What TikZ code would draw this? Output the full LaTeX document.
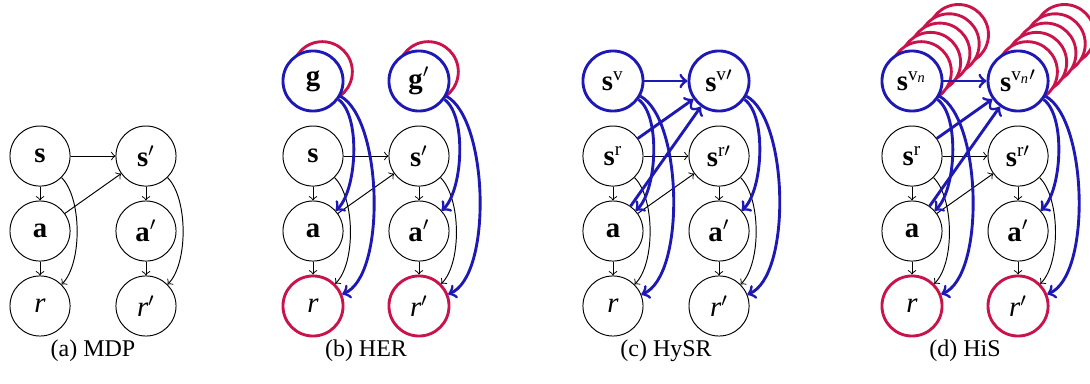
\documentclass[tikz,border=0pt]{standalone}
\usepackage{amsmath}
\usepackage{fontspec}
\setmainfont{Liberation Serif}
\definecolor{hisblue}{RGB}{30,25,180}
\definecolor{hisred}{RGB}{200,20,75}

\begin{document}
\begin{tikzpicture}[
    var/.style={circle, draw, fill=white, minimum size=0.88cm, inner sep=0pt, font=\fontsize{12}{14}\selectfont},
    bluevar/.style={var, draw=hisblue, very thick},
    redvar/.style={var, draw=hisred, very thick},
    copyc/.style={draw=hisred, very thick, fill=white},
    arr/.style={->},
    barr/.style={->, very thick, draw=hisblue},
    subcap/.style={font=\fontsize{10}{12}\selectfont}
]
    \useasboundingbox (0,0) rectangle (15.963,-5.609);

    % (a) MDP
    \node[var] (sA)  at (0.586,-2.285) {$\textbf{s}$};
    \node[var] (spA) at (2.138,-2.285) {$\textbf{s}'$};
    \node[var] (aA)  at (0.586,-3.383) {$\textbf{a}$};
    \node[var] (apA) at (2.138,-3.383) {$\textbf{a}'$};
    \node[var] (rA)  at (0.586,-4.481) {$\textit{r}$};
    \node[var] (rpA) at (2.138,-4.481) {$\textit{r}'$};
    \draw[arr] (sA) -- (spA);
    \draw[arr] (sA) -- (aA);
    \draw[arr] (aA) -- (rA);
    \draw[arr] (aA) -- (spA);
    \draw[arr] (sA) to[out=-45, in=45, looseness=0.7] (rA);
    \draw[arr] (spA) -- (apA);
    \draw[arr] (apA) -- (rpA);
    \draw[arr] (spA) to[out=-45, in=45, looseness=0.7] (rpA);
    \node[subcap] (capA) at (1.362,-5.140) {(a) MDP};

    % (b) HER
    \draw[copyc] (4.720,-1.050) circle (0.44);
    \draw[copyc] (6.272,-1.050) circle (0.44);
    \node[bluevar] (gB)  at (4.584,-1.186) {$\textbf{g}$};
    \node[bluevar] (gpB) at (6.136,-1.186) {$\textbf{g}'$};
    \node[var] (sB)  at (4.584,-2.285) {$\textbf{s}$};
    \node[var] (spB) at (6.136,-2.285) {$\textbf{s}'$};
    \node[var] (aB)  at (4.584,-3.383) {$\textbf{a}$};
    \node[var] (apB) at (6.136,-3.383) {$\textbf{a}'$};
    \node[redvar] (rB)  at (4.584,-4.481) {$\textit{r}$};
    \node[redvar] (rpB) at (6.136,-4.481) {$\textit{r}'$};
    \draw[arr] (sB) -- (spB);
    \draw[arr] (sB) -- (aB);
    \draw[arr] (aB) -- (rB);
    \draw[arr] (aB) -- (spB);
    \draw[arr] (sB) to[out=-45, in=45, looseness=0.7] (rB);
    \draw[arr] (spB) -- (apB);
    \draw[arr] (apB) -- (rpB);
    \draw[arr] (spB) to[out=-45, in=45, looseness=0.7] (rpB);
    \draw[barr] (gB) to[out=-36, in=42, looseness=0.65] (aB);
    \draw[barr] (gB) to[out=-29, in=22, looseness=0.62] (rB);
    \draw[barr] (gpB) to[out=-36, in=42, looseness=0.65] (apB);
    \draw[barr] (gpB) to[out=-29, in=22, looseness=0.62] (rpB);
    \node[subcap] (capB) at (5.360,-5.140) {(b) HER};

    % (c) HySR
    \node[bluevar] (svC)  at (8.977,-1.186) {$\textbf{s}^{\text{v}}$};
    \node[bluevar] (svpC) at (10.530,-1.186) {$\textbf{s}^{\text{v}\prime}$};
    \node[var] (srC)  at (8.977,-2.285) {$\textbf{s}^{\text{r}}$};
    \node[var] (srpC) at (10.530,-2.285) {$\textbf{s}^{\text{r}\prime}$};
    \node[var] (aC)   at (8.977,-3.383) {$\textbf{a}$};
    \node[var] (apC)  at (10.530,-3.383) {$\textbf{a}'$};
    \node[var] (rC)   at (8.977,-4.481) {$\textit{r}$};
    \node[var] (rpC)  at (10.530,-4.481) {$\textit{r}'$};
    \draw[arr] (srC) -- (srpC);
    \draw[arr] (srC) -- (aC);
    \draw[arr] (aC) -- (rC);
    \draw[arr] (aC) -- (srpC);
    \draw[arr] (srC) to[out=-45, in=45, looseness=0.7] (rC);
    \draw[arr] (srpC) -- (apC);
    \draw[arr] (apC) -- (rpC);
    \draw[arr] (srpC) to[out=-45, in=45, looseness=0.7] (rpC);
    \draw[barr] (svC) -- (svpC);
    \draw[barr] (srC) -- (svpC);
    \draw[barr] (aC) -- (svpC);
    \draw[barr] (svC) to[out=-36, in=42, looseness=0.65] (aC);
    \draw[barr] (svC) to[out=-29, in=22, looseness=0.62] (rC);
    \draw[barr] (svpC) to[out=-36, in=42, looseness=0.65] (apC);
    \draw[barr] (svpC) to[out=-29, in=22, looseness=0.62] (rpC);
    \node[subcap] (capC) at (9.754,-5.140) {(c) HySR};

    % (d) HiS: stacked copies behind the virtual states
    \draw[copyc] (14.036,-0.506) circle (0.44);
    \draw[copyc] (13.900,-0.642) circle (0.44);
    \draw[copyc] (13.764,-0.778) circle (0.44);
    \draw[copyc] (13.628,-0.914) circle (0.44);
    \draw[copyc] (13.492,-1.050) circle (0.44);
    \draw[copyc] (15.589,-0.506) circle (0.44);
    \draw[copyc] (15.453,-0.642) circle (0.44);
    \draw[copyc] (15.317,-0.778) circle (0.44);
    \draw[copyc] (15.181,-0.914) circle (0.44);
    \draw[copyc] (15.045,-1.050) circle (0.44);
    \node[bluevar] (svD)  at (13.356,-1.186) {$\textbf{s}^{\text{v}_{\textit{n}}}$};
    \node[bluevar] (svpD) at (14.909,-1.186) {$\textbf{s}^{\text{v}_{\textit{n}}\prime}$};
    \node[var] (srD)  at (13.356,-2.285) {$\textbf{s}^{\text{r}}$};
    \node[var] (srpD) at (14.909,-2.285) {$\textbf{s}^{\text{r}\prime}$};
    \node[var] (aD)   at (13.356,-3.383) {$\textbf{a}$};
    \node[var] (apD)  at (14.909,-3.383) {$\textbf{a}'$};
    \node[redvar] (rD)  at (13.356,-4.481) {$\textit{r}$};
    \node[redvar] (rpD) at (14.909,-4.481) {$\textit{r}'$};
    \draw[arr] (srD) -- (srpD);
    \draw[arr] (srD) -- (aD);
    \draw[arr] (aD) -- (rD);
    \draw[arr] (aD) -- (srpD);
    \draw[arr] (srD) to[out=-45, in=45, looseness=0.7] (rD);
    \draw[arr] (srpD) -- (apD);
    \draw[arr] (apD) -- (rpD);
    \draw[arr] (srpD) to[out=-45, in=45, looseness=0.7] (rpD);
    \draw[barr] (svD) -- (svpD);
    \draw[barr] (srD) -- (svpD);
    \draw[barr] (aD) -- (svpD);
    \draw[barr] (svD) to[out=-36, in=42, looseness=0.65] (aD);
    \draw[barr] (svD) to[out=-29, in=22, looseness=0.62] (rD);
    \draw[barr] (svpD) to[out=-36, in=42, looseness=0.65] (apD);
    \draw[barr] (svpD) to[out=-29, in=22, looseness=0.62] (rpD);
    \node[subcap] (capD) at (14.132,-5.140) {(d) HiS};
\end{tikzpicture}
\end{document}
